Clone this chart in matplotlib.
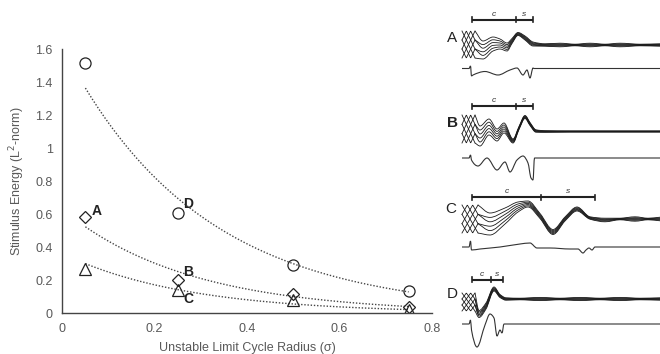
import numpy as np
import matplotlib.pyplot as plt
from matplotlib.path import Path
from matplotlib.patches import PathPatch

plt.rcParams['font.family'] = ['Liberation Sans', 'DejaVu Sans']

# Left chart: stimulus energy vs. unstable limit cycle radius
radius = [0.05, 0.25, 0.5, 0.75]
energy_circle = [1.515, 0.61, 0.293, 0.137]
energy_diamond = [0.586, 0.202, 0.117, 0.04]
energy_triangle = [0.27, 0.14, 0.08, 0.018]

x_ticks = [0, 0.2, 0.4, 0.6, 0.8]
x_tick_labels = ['0', '0.2', '0.4', '0.6', '0.8']
y_ticks = [0, 0.2, 0.4, 0.6, 0.8, 1.0, 1.2, 1.4, 1.6]
y_tick_labels = ['0', '0.2', '0.4', '0.6', '0.8', '1', '1.2', '1.4', '1.6']

point_labels = ['A', 'D', 'B', 'C']
point_label_x = [0.074, 0.273, 0.273, 0.273]
point_label_y = [0.622, 0.66, 0.248, 0.085]

# Right panels: trajectories (read in pixel units of the picture)
panel_names = ['A', 'B', 'C', 'D']
panel_bold = [False, True, False, False]
panel_label_x = [452, 452, 451, 452]
panel_label_y = [38, 123, 209, 294]

# bracket: start, split, end, y
a_bracket = [472, 516, 533, 19.5]
b_bracket = [472, 516, 533, 106]
c_bracket = [472, 541, 595, 197]
d_bracket = [472, 491, 503, 279.5]

# hatch box: x0, x1, y top, y bottom
a_hatch = [462, 475, 31, 58]
b_hatch = [462, 475, 115, 143]
c_hatch = [462, 478, 205, 233]
d_hatch = [462, 475, 293, 311]

a_center_x = [475, 483, 493, 500, 507, 512, 518, 525, 533, 545, 560, 575, 590, 605, 620, 640, 660]
a_center_y = [44.5, 50, 44, 44, 47, 41, 34, 38, 44, 45, 45, 45, 45, 45, 45, 45, 45]
a_spread = [13.5, 9, 7, 5, 4, 2.5, 1.5, 2, 2, 1.2, 1.8, 0.8, 1.8, 0.8, 1.8, 0.8, 1.2]

b_center_x = [475, 480, 489, 497, 504, 513, 519, 525, 530, 536, 545, 570, 600, 630, 660]
b_center_y = [129, 136, 127, 135, 128, 141, 128, 117, 124, 131, 131.5, 131.5, 131.5, 131.5, 131.5]
b_spread = [14, 10, 8, 6, 5, 2, 1.5, 1.5, 1.5, 1.2, 0.8, 0.6, 0.6, 0.6, 0.6]

c_center_x = [478, 490, 505, 518, 528, 540, 553, 565, 577, 590, 605, 620, 635, 648, 660]
c_center_y = [219, 224, 216, 207, 204, 216, 232, 219, 209, 218, 220, 219, 219, 219, 219]
c_spread = [14, 11, 8, 5, 3, 2.5, 2.5, 2, 2, 1.2, 1.8, 0.8, 2.2, 0.8, 1.8]

d_center_x = [475, 479, 486, 494, 500, 506, 520, 540, 560, 580, 600, 620, 640, 660]
d_center_y = [302, 314, 306, 289, 296, 299, 299, 299, 299, 299, 299, 299, 299, 299]
d_spread = [9, 3.5, 3, 2, 1.5, 1.2, 0.8, 1.6, 0.8, 1.6, 0.8, 1.6, 0.8, 1.2]

a_stim_x = [462, 469, 470.5, 471.5, 473, 485, 498, 510, 517, 523, 527, 530, 533, 534, 660]
a_stim_y = [68.5, 68.5, 66, 76, 75, 71.5, 75, 70, 68, 75, 70, 78, 68, 68.5, 68.5]
b_stim_x = [462, 469, 470.5, 471.5, 478, 487, 497, 505, 510, 517, 523, 528, 531, 533, 534.5, 660]
b_stim_y = [158, 158, 155, 160, 166, 158, 170, 162, 172, 160, 156, 163, 178, 180, 158, 158]
c_stim_x = [462, 469, 470.5, 471.5, 480, 500, 520, 530, 537, 550, 570, 578, 583, 586, 589, 592, 595, 660]
c_stim_y = [247, 247, 241, 250, 249, 247, 244, 243, 248, 248, 249, 249, 253, 250, 248, 250, 247, 247]
d_stim_x = [462, 469, 470.5, 471.5, 477, 485, 490, 494, 497, 500, 502, 504, 505.5, 660]
d_stim_y = [324, 324, 320, 330, 347, 325, 314, 318, 336, 330, 333, 324, 324, 324]

N_STRANDS = 6


def smooth_path(xs, ys):
    # monotone cubic Hermite in x, drawn as Bezier segments (no overshoot)
    x = np.asarray(xs, float)
    y = np.asarray(ys, float)
    n = len(x)
    h = np.diff(x)
    d = np.diff(y) / h
    m = np.zeros(n)
    m[0] = d[0]
    m[-1] = d[-1]
    for i in range(1, n - 1):
        if d[i - 1] * d[i] > 0:
            w1 = 2 * h[i] + h[i - 1]
            w2 = h[i] + 2 * h[i - 1]
            m[i] = (w1 + w2) / (w1 / d[i - 1] + w2 / d[i])
    verts = [(x[0], y[0])]
    codes = [Path.MOVETO]
    for i in range(n - 1):
        verts += [(x[i] + h[i] / 3, y[i] + m[i] * h[i] / 3),
                  (x[i + 1] - h[i] / 3, y[i + 1] - m[i + 1] * h[i] / 3),
                  (x[i + 1], y[i + 1])]
        codes += [Path.CURVE4] * 3
    return Path(verts, codes)


def tri(u):
    return 1 - 4 * np.abs(((u + 0.25) % 1) - 0.5)


def draw_panel(ax, name, bold, lx, ly, bracket, hatch, cx, cy, cs, sx, sy):
    ax.text(lx, ly, name, fontsize=11, fontweight='bold' if bold else 'normal',
            ha='center', va='center', color='#222222')

    # c / s bracket
    x0, xm, x1, by = bracket
    ax.plot([x0, x1], [by, by], color='#222222', lw=1.5, solid_capstyle='butt')
    for xv in (x0, xm, x1):
        ax.plot([xv, xv], [by - 2.5, by + 2.5], color='#222222', lw=1.2)
    ax.text((x0 + xm) / 2, by - 5.5, 'c', fontsize=6, style='italic',
            ha='center', va='center', color='#333333')
    ax.text((xm + x1) / 2, by - 5.5, 's', fontsize=6, style='italic',
            ha='center', va='center', color='#333333')

    # strand bundle: crosshatch at the start, then converging
    hx0, hx1, ht, hb = hatch
    hc = (ht + hb) / 2
    hs = (hb - ht) / 2
    phases = np.arange(N_STRANDS) / N_STRANDS + 0.5 / N_STRANDS
    hx = np.linspace(hx0, hx1, 41)
    cycles = 0.5
    exits = []
    for ph in phases:
        u = ph + (hx - hx0) / (hx1 - hx0) * cycles
        hy = hc + hs * tri(u)
        ax.plot(hx, hy, color='#1a1a1a', lw=0.6)
        e = tri(ph + cycles)
        exits.append(e + 0.01 * np.sign(tri(ph + cycles + 0.01) - e))
    order = np.argsort(exits)
    targets = np.empty(N_STRANDS)
    targets[order] = np.linspace(-1, 1, N_STRANDS)
    cx = np.asarray(cx, float)
    cy = np.asarray(cy, float)
    cs = np.asarray(cs, float)
    for k in range(N_STRANDS):
        fr = np.full(len(cx), targets[k])
        fr[0] = tri(phases[k] + cycles)
        ys = cy + cs * fr
        ys[0] = hc + hs * fr[0]
        ax.add_patch(PathPatch(smooth_path(cx, ys), fill=False, ec='#1a1a1a', lw=0.6))

    # stimulus trace
    ax.add_patch(PathPatch(smooth_path(sx, sy), fill=False, ec='#333333', lw=0.8))


fig = plt.figure(figsize=(6.6, 3.54), dpi=100)

ax = fig.add_axes([0.0944, 0.115, 0.5597, 0.7458])
xs_fit = np.linspace(radius[0], radius[-1], 200)
for vals in (energy_circle, energy_diamond, energy_triangle):
    coef = np.polyfit(radius, np.log(vals), 1)
    ax.plot(xs_fit, np.exp(np.polyval(coef, xs_fit)), color='#444444', lw=1.0,
            linestyle=(0, (1, 1.3)))

ax.plot(radius, energy_circle, 'o', ms=8, mfc='none', mec='#222222', mew=0.9, ls='none')
ax.plot(radius, energy_diamond, 'D', ms=6, mfc='none', mec='#222222', mew=0.9, ls='none')
ax.plot(radius, energy_triangle, '^', ms=8.5, mfc='none', mec='#222222', mew=0.9, ls='none')

for lab, lx, ly in zip(point_labels, point_label_x, point_label_y):
    ax.text(lx, ly, lab, fontsize=10, fontweight='bold', ha='center', va='center',
            color='#222222')

ax.set_xlim(0, 0.8)
ax.set_ylim(0, 1.6)
ax.set_xticks(x_ticks, x_tick_labels)
ax.set_yticks(y_ticks, y_tick_labels)
ax.tick_params(length=0, labelsize=9, labelcolor='#595959', pad=7)
for side in ('top', 'right'):
    ax.spines[side].set_visible(False)
for side in ('left', 'bottom'):
    ax.spines[side].set_color('#444444')
    ax.spines[side].set_linewidth(1.0)
ax.set_xlabel('Unstable Limit Cycle Radius (σ)', fontsize=9, color='#595959', labelpad=5)
ax.set_ylabel('Stimulus Energy (L$^2$-norm)', fontsize=9, color='#595959', labelpad=6)

rax = fig.add_axes([440 / 660, 0, 220 / 660, 1])
rax.set_xlim(440, 660)
rax.set_ylim(354, 0)
rax.axis('off')

brackets = [a_bracket, b_bracket, c_bracket, d_bracket]
hatches = [a_hatch, b_hatch, c_hatch, d_hatch]
centers = [(a_center_x, a_center_y, a_spread), (b_center_x, b_center_y, b_spread),
           (c_center_x, c_center_y, c_spread), (d_center_x, d_center_y, d_spread)]
stims = [(a_stim_x, a_stim_y), (b_stim_x, b_stim_y), (c_stim_x, c_stim_y), (d_stim_x, d_stim_y)]

for i, name in enumerate(panel_names):
    draw_panel(rax, name, panel_bold[i], panel_label_x[i], panel_label_y[i],
               brackets[i], hatches[i], *centers[i], *stims[i])

fig.savefig('out.png', dpi=100)
